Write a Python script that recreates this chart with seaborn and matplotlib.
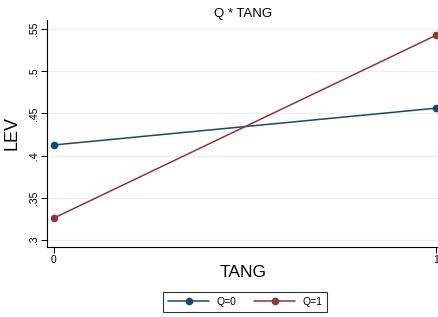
import pandas as pd
import seaborn as sns
import matplotlib.pyplot as plt

tang = [0, 1, 0, 1]
lev = [0.4126, 0.4562, 0.3260, 0.5425]
grupo = ['Q=0', 'Q=0', 'Q=1', 'Q=1']

df = pd.DataFrame({'TANG': tang, 'LEV': lev, 'Q': grupo})

sns.set_style("white")
plt.rcParams['font.family'] = ['Liberation Sans', 'DejaVu Sans']
plt.rcParams['text.color'] = 'black'
plt.rcParams['axes.labelcolor'] = 'black'
plt.rcParams['xtick.color'] = 'black'
plt.rcParams['ytick.color'] = 'black'

fig = plt.figure(figsize=(4.39, 3.17), dpi=100)
ax = fig.add_axes([47/439, 70/317, 392/439, 227/317])

colores = {'Q=0': '#1a476f', 'Q=1': '#90353b'}
sns.lineplot(data=df, x='TANG', y='LEV', hue='Q', palette=colores,
             marker='o', markersize=5.5, markeredgewidth=0, linewidth=1.1, ax=ax)

ax.set_xlim(-0.018, 1.008)
ax.set_ylim(0.2917, 0.5607)
ax.set_yticks([0.3, 0.35, 0.4, 0.45, 0.5, 0.55])
ax.set_yticklabels(['.3', '.35', '.4', '.45', '.5', '.55'], rotation=90, va='center', fontsize=7.5)
ax.set_xticks([0, 1])
ax.set_xticklabels(['0', '1'], fontsize=7.5)
ax.tick_params(axis='both', length=4, width=0.7, color='black', pad=2, left=True, bottom=True)
ax.grid(axis='y', color='#eaf2f3', linewidth=1)
ax.set_axisbelow(True)

for s in ['top', 'right']:
    ax.spines[s].set_visible(False)
for s in ['left', 'bottom']:
    ax.spines[s].set_color('black')
    ax.spines[s].set_linewidth(0.8)

ax.set_xlabel('TANG', fontsize=12.5, labelpad=0)
ax.set_ylabel('LEV', fontsize=13, labelpad=6)
ax.set_title('Q * TANG', fontsize=9.5, pad=2.5)

ax.legend_.remove()
h, l = ax.get_legend_handles_labels()
leg = fig.legend(h, l, loc='center', bbox_to_anchor=(245/439, 1 - 302/317), ncol=2,
                 fontsize=7.5, frameon=True, fancybox=False, edgecolor='black',
                 handlelength=4.0, handletextpad=0.65, columnspacing=1.7, borderpad=0.45)
leg.get_frame().set_linewidth(0.8)

fig.savefig('out.png', dpi=100)
